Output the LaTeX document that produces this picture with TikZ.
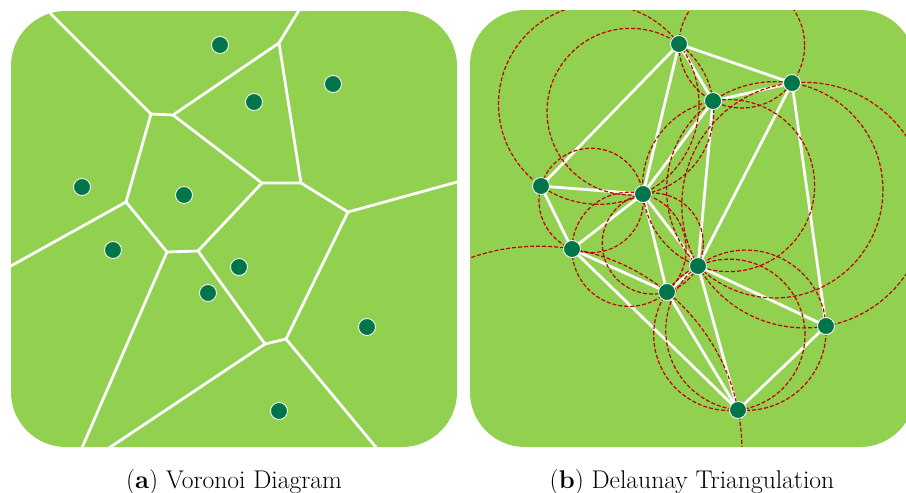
\documentclass[tikz,border=0pt]{standalone}
\usetikzlibrary{calc}

\definecolor{leafgreen}{RGB}{146,208,80}
\definecolor{sitegreen}{RGB}{0,117,74}
\definecolor{circred}{RGB}{192,0,0}

\tikzset{
  site/.style={circle, fill=sitegreen, draw=white, line width=0.8pt,
    inner sep=0pt, minimum size=17pt},
  cell edge/.style={white, line width=2.8pt},
  tri edge/.style={white, line width=2.8pt},
  circum/.style={circred, line width=1.2pt, dash pattern=on 4pt off 2pt},
  caption/.style={font=\fontsize{25.6}{30}\selectfont}
}

% circumcircle through three named points
\newcommand{\circumcircle}[3]{%
  \path (#1); \pgfgetlastxy{\qAx}{\qAy}%
  \path (#2); \pgfgetlastxy{\qBx}{\qBy}%
  \path (#3); \pgfgetlastxy{\qCx}{\qCy}%
  \pgfmathsetmacro{\qax}{\qAx/100}\pgfmathsetmacro{\qay}{\qAy/100}%
  \pgfmathsetmacro{\qbx}{\qBx/100}\pgfmathsetmacro{\qby}{\qBy/100}%
  \pgfmathsetmacro{\qcx}{\qCx/100}\pgfmathsetmacro{\qcy}{\qCy/100}%
  \pgfmathsetmacro{\qd}{2*((\qax)*((\qby)-(\qcy))+(\qbx)*((\qcy)-(\qay))+(\qcx)*((\qay)-(\qby)))}%
  \pgfmathsetmacro{\qa}{(\qax)*(\qax)+(\qay)*(\qay)}%
  \pgfmathsetmacro{\qb}{(\qbx)*(\qbx)+(\qby)*(\qby)}%
  \pgfmathsetmacro{\qc}{(\qcx)*(\qcx)+(\qcy)*(\qcy)}%
  \pgfmathsetmacro{\qux}{((\qa)*((\qby)-(\qcy))+(\qb)*((\qcy)-(\qay))+(\qc)*((\qay)-(\qby)))/(\qd)}%
  \pgfmathsetmacro{\quy}{((\qa)*((\qcx)-(\qbx))+(\qb)*((\qax)-(\qcx))+(\qc)*((\qbx)-(\qax)))/(\qd)}%
  \pgfmathsetmacro{\qr}{veclen((\qax)-(\qux),(\qay)-(\quy))}%
  \draw[circum] (\qux*100pt,\quy*100pt) circle[radius=\qr*100pt];%
}

\begin{document}
\begin{tikzpicture}[x=1pt,y=-1pt]
\useasboundingbox (0,0) rectangle (906,493);

% Sites, same set in both panels
\foreach \n/\x/\y in {a/209/34, b/243/91, c/322/73, d/71/176, e/173/184,
    f/102/239, g/228/256, h/197/282, i/356/316, j/268/400} {
  \coordinate (v\n) at (11+\x,11+\y);
  \coordinate (d\n) at (470+\x,10+\y);
}

% Voronoi vertices
\coordinate (c1) at (151,114);
\coordinate (c2) at (173,115);
\coordinate (c3) at (279,43);
\coordinate (c4) at (301,183);
\coordinate (c5) at (262,183);
\coordinate (c6) at (126,202);
\coordinate (c7) at (167,252);
\coordinate (c8) at (198,251);
\coordinate (c9) at (265,344);
\coordinate (c10) at (286,339);
\coordinate (c11) at (348,212);
% open ends, cut by the panel
\coordinate (e1) at (42,5);
\coordinate (e2) at (304,2);
\coordinate (e3) at (0,272);
\coordinate (e4) at (468,179);
\coordinate (e5) at (78,457);
\coordinate (e6) at (100,454);
\coordinate (e7) at (384,457);

% Left panel: Voronoi diagram
\fill[leafgreen, rounded corners=55pt] (11,11) rectangle (457,447);
\begin{scope}
  \clip[rounded corners=55pt] (11,11) rectangle (457,447);
  \draw[cell edge] (e1) -- (c1) -- (c2) -- (c3) -- (e2);
  \draw[cell edge] (c3) -- (c4) -- (c5) -- (c2);
  \draw[cell edge] (c1) -- (c6) -- (e3);
  \draw[cell edge] (c6) -- (c7) -- (c8) -- (c5);
  \draw[cell edge] (c8) -- (c9) -- (c10) -- (c11) -- (c4);
  \draw[cell edge] (c11) -- (e4);
  \draw[cell edge] (c7) -- (e5);
  \draw[cell edge] (c9) -- (e6);
  \draw[cell edge] (c10) -- (e7);
\end{scope}
\foreach \n in {a,b,c,d,e,f,g,h,i,j}
  \node[site] (sv\n) at (v\n) {};

% Right panel: Delaunay triangulation
\fill[leafgreen, rounded corners=55pt] (470,10) rectangle (915,447);
\begin{scope}
  \clip[rounded corners=55pt] (470,10) rectangle (915,447);
  \foreach \p/\q in {a/c, a/d, a/e, a/b, b/c, c/g, c/i, b/g, b/e, d/e, d/f,
      e/f, e/h, e/g, h/g, g/j, g/i, f/h, h/j, i/j, f/j}
    \draw[tri edge] (d\p) -- (d\q);
  % circumcircles
  \foreach \p/\q/\r in {d/a/e, a/e/b, a/b/c, b/c/g, b/g/e, d/e/f, e/f/h,
      e/h/g, h/g/j, g/j/i, g/c/i, f/h/j}
    \circumcircle{d\p}{d\q}{d\r};
\end{scope}
\foreach \n in {a,b,c,d,e,f,g,h,i,j}
  \node[site] (sd\n) at (d\n) {};

% Captions
\node[caption, anchor=base] (capa) at (234,488) {(\textbf{a}) Voronoi Diagram};
\node[caption, anchor=base] (capb) at (692,488) {(\textbf{b}) Delaunay Triangulation};

\end{tikzpicture}
\end{document}
